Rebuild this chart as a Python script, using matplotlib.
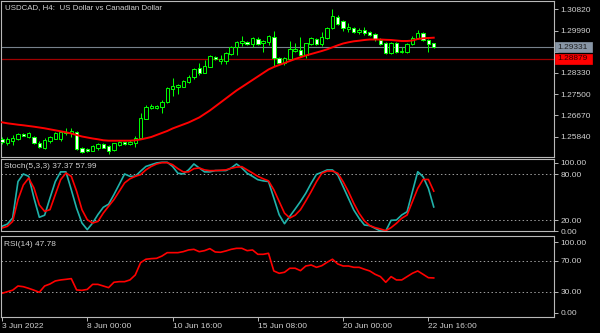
import matplotlib
matplotlib.use("Agg")
import matplotlib.pyplot as plt
import numpy as np
from matplotlib.patches import Rectangle

plt.rcParams['font.family'] = ['Liberation Sans', 'DejaVu Sans']

# ---------------- data (USDCAD H4) ----------------
open_ = [1.25730,1.25581,1.25683,1.25749,1.25945,1.25816,1.25816,1.25604,1.25386,1.25683,
         1.25749,1.25749,1.25972,1.25972,1.26011,1.25386,1.25358,1.25292,1.25386,1.25554,
         1.25475,1.25319,1.25515,1.25632,1.25554,1.25581,1.25777,1.26543,1.26949,1.26961,
         1.26988,1.27184,1.27704,1.27770,1.27794,1.27990,1.28161,1.28513,1.28341,1.28576,
         1.28967,1.28811,1.28799,1.29073,1.29358,1.29514,1.29554,1.29464,1.29671,1.29514,
         1.29554,1.29749,1.28905,1.28709,1.28877,1.29190,1.29229,1.29033,1.29452,1.29671,
         1.29464,1.29687,1.30077,1.30531,1.30363,1.30038,1.30077,1.29933,1.30011,1.29945,
         1.29855,1.29620,1.29514,1.29100,1.29514,1.29139,1.29162,1.29452,1.29687,1.29882,
         1.29620,1.29491]
high = [1.25808,1.25816,1.25906,1.25972,1.25972,1.26011,1.25878,1.25683,1.25777,1.25866,
        1.26011,1.26035,1.26167,1.26179,1.26062,1.25448,1.25397,1.25515,1.25604,1.25593,
        1.25515,1.25604,1.25659,1.25643,1.25710,1.25866,1.26754,1.27079,1.27118,1.27079,
        1.27274,1.27794,1.28123,1.27888,1.28056,1.28251,1.28513,1.28709,1.28838,1.29033,
        1.29006,1.29033,1.29162,1.29397,1.29581,1.29776,1.29581,1.29749,1.29749,1.29620,
        1.29827,1.29984,1.28967,1.28967,1.29593,1.29514,1.29726,1.29514,1.29726,1.29710,
        1.29921,1.30140,1.30820,1.30598,1.30402,1.30273,1.30117,1.30077,1.30140,1.29984,
        1.29905,1.29687,1.29554,1.29554,1.29554,1.29358,1.29491,1.29776,1.30011,1.29945,
        1.29647,1.29503]
low = [1.25554,1.25515,1.25515,1.25710,1.25847,1.25777,1.25554,1.25409,1.25358,1.25581,
       1.25738,1.25671,1.25906,1.25839,1.25319,1.25214,1.25241,1.25268,1.25319,1.25378,
       1.25163,1.25280,1.25487,1.25526,1.25515,1.25448,1.25738,1.26520,1.26910,1.26910,
       1.26777,1.27145,1.27430,1.27509,1.27782,1.27927,1.28083,1.28251,1.28318,1.28564,
       1.28838,1.28682,1.28670,1.29033,1.29033,1.29386,1.29436,1.29358,1.29425,1.29162,
       1.29425,1.28603,1.28670,1.28643,1.28838,1.29162,1.28967,1.28905,1.29425,1.29425,
       1.29386,1.29647,1.30038,1.30195,1.29984,1.29945,1.29882,1.29843,1.29816,1.29776,
       1.29593,1.29425,1.29073,1.29073,1.29112,1.29100,1.29123,1.29425,1.29647,1.29593,
       1.29162,1.29320]
close = [1.25612,1.25738,1.25800,1.25933,1.25866,1.25972,1.25581,1.25448,1.25710,1.25816,
         1.25972,1.26011,1.26035,1.26074,1.25358,1.25253,1.25280,1.25475,1.25554,1.25397,
         1.25292,1.25581,1.25632,1.25554,1.25632,1.25777,1.26559,1.26988,1.27038,1.27038,
         1.27208,1.27731,1.27821,1.27861,1.28017,1.28185,1.28474,1.28318,1.28603,1.28994,
         1.28866,1.28866,1.29100,1.29358,1.29554,1.29593,1.29464,1.29698,1.29464,1.29593,
         1.29776,1.28905,1.28709,1.28928,1.29268,1.29256,1.29033,1.29491,1.29687,1.29464,
         1.29749,1.30077,1.30558,1.30246,1.30077,1.30117,1.29945,1.30011,1.29882,1.29816,
         1.29647,1.29464,1.29100,1.29514,1.29139,1.29190,1.29464,1.29687,1.29905,1.29620,
         1.29452,1.29331]
ma = [1.26402,1.26363,1.26336,1.26308,1.26285,1.26257,1.26230,1.26199,1.26167,1.26128,
      1.26089,1.26050,1.26011,1.25964,1.25906,1.25847,1.25808,1.25769,1.25738,1.25699,
      1.25683,1.25683,1.25683,1.25683,1.25683,1.25699,1.25730,1.25777,1.25827,1.25906,
      1.25984,1.26062,1.26160,1.26238,1.26316,1.26394,1.26492,1.26590,1.26727,1.26863,
      1.27020,1.27176,1.27333,1.27490,1.27646,1.27782,1.27919,1.28056,1.28193,1.28330,
      1.28467,1.28564,1.28643,1.28721,1.28799,1.28877,1.28944,1.29014,1.29073,1.29131,
      1.29190,1.29256,1.29335,1.29413,1.29483,1.29530,1.29569,1.29593,1.29620,1.29640,
      1.29640,1.29640,1.29628,1.29620,1.29600,1.29581,1.29581,1.29600,1.29659,1.29687,
      1.29698,1.29710]
stoch_k = [12.1,15.0,23.0,70.5,80.4,77.3,49.0,23.9,26.6,49.0,
           70.5,83.1,83.1,59.8,35.6,16.4,7.8,16.4,27.5,36.9,
           41.0,53.5,66.9,80.4,77.3,77.3,84.0,90.2,92.5,94.7,
           95.6,95.6,90.2,81.3,80.4,85.7,93.4,88.2,83.1,83.1,
           84.8,84.8,84.8,88.2,93.4,88.2,81.3,77.3,72.9,71.4,
           70.5,49.0,27.2,15.5,25.2,34.7,44.5,55.3,68.2,79.9,
           82.5,85.6,85.6,79.0,63.8,48.6,33.4,22.6,13.8,13.0,
           9.5,6.0,6.0,19.9,20.3,26.9,31.1,57.3,83.3,76.8,
           61.6,37.37]
stoch_d = [9.9,12.1,18.5,46.9,66.0,75.0,62.1,40.0,31.6,33.8,
           53.5,72.9,81.6,77.3,57.8,33.8,20.7,16.4,18.5,29.3,
           38.3,46.9,57.8,68.7,74.1,77.3,79.5,85.7,90.2,93.4,
           95.1,95.1,92.5,87.3,83.1,83.1,87.3,88.2,85.7,84.7,
           84.8,85.2,85.7,87.8,89.3,89.9,85.7,81.6,77.3,74.1,
           71.4,59.8,44.5,29.3,23.0,26.6,33.8,45.2,57.3,70.3,
           81.3,84.2,84.2,81.3,70.3,57.3,42.1,29.1,19.1,13.0,
           10.4,8.6,6.4,10.4,16.0,22.6,26.9,44.3,61.6,73.2,
           73.2,57.99]
rsi = [28.0,30.0,32.0,37.4,36.5,34.4,32.0,29.3,37.4,40.0,
       43.9,45.2,46.0,46.9,32.3,31.8,33.0,39.5,39.5,37.4,
       35.3,42.2,43.0,43.0,45.2,51.6,67.5,71.9,72.7,73.1,
       76.0,80.4,80.4,80.4,81.7,83.9,84.7,81.7,83.0,85.6,
       81.3,80.9,82.6,84.7,86.0,86.0,83.0,83.9,78.3,78.3,
       79.6,56.8,53.8,55.1,60.3,60.3,57.2,63.2,64.5,61.5,
       63.6,68.0,71.9,65.8,63.2,63.2,61.5,61.5,59.0,56.8,
       52.5,49.5,42.2,49.5,45.2,45.2,49.5,53.8,56.8,52.5,
       48.1,47.78]

price_ticks = [1.25840, 1.26670, 1.27500, 1.28330, 1.29160, 1.29990, 1.30820]
price_tick_labels = ['1.25840', '1.26670', '1.27500', '1.28330', '', '1.29990', '1.30820']
bid_price = 1.29331
hline_price = 1.28879
time_tick_idx = [0, 16, 32, 48, 64, 80]
time_tick_labels = ['3 Jun 2022', '8 Jun 00:00', '10 Jun 16:00', '15 Jun 08:00',
                    '20 Jun 00:00', '22 Jun 16:00']
stoch_levels = [80, 20]
rsi_levels = [70, 30]

# ---------------- figure ----------------
W, H = 600, 333
fig = plt.figure(figsize=(W / 100, H / 100), dpi=100, facecolor='black')

FG = '#d0d0d0'
BORDER = '#b8b8b8'
FS = 6


def fbox(x0, y0, x1, y1):
    return [x0 / W, 1 - y1 / H, (x1 - x0) / W, (y1 - y0) / H]


ax_m = fig.add_axes(fbox(1, 1, 554, 157))
ax_s = fig.add_axes(fbox(1, 159, 554, 231))
ax_r = fig.add_axes(fbox(1, 236, 554, 317))

px_per_bar = 5.33
xlim = ((1 - 2) / px_per_bar, (554 - 2) / px_per_bar)

for ax in (ax_m, ax_s, ax_r):
    ax.set_facecolor('black')
    ax.set_xlim(*xlim)
    for s in ax.spines.values():
        s.set_color(BORDER)
        s.set_linewidth(0.8)
    ax.yaxis.tick_right()
    ax.tick_params(axis='y', direction='out', length=3, width=0.7, colors=BORDER,
                   labelcolor=FG, labelsize=FS, pad=1.5)
    ax.tick_params(axis='x', bottom=False, labelbottom=False)

x = np.arange(len(close))
o = np.array(open_); c = np.array(close); hi = np.array(high); lo = np.array(low)

# ---- main panel ----
ax_m.set_ylim(1.25045, 1.31145)
ax_m.vlines(x, lo, hi, color='#00ff00', lw=0.72, zorder=2)
bull = c >= o
bw = 3.4 / px_per_bar
ax_m.bar(x[bull], np.maximum(c[bull] - o[bull], 1e-6), bottom=o[bull], width=bw,
         facecolor='black', edgecolor='#00ff00', lw=0.7, zorder=3)
ax_m.bar(x[~bull], np.maximum(o[~bull] - c[~bull], 1e-6), bottom=c[~bull], width=bw,
         facecolor='white', edgecolor='#00ff00', lw=0.7, zorder=3)
ax_m.plot(x, ma, color='#ff0000', lw=1.4, zorder=4)
ax_m.axhline(bid_price, color='#77818c', lw=0.8, zorder=1.5)
ax_m.axhline(hline_price, color='#a00000', lw=0.9, zorder=1.5)
ax_m.set_yticks(price_ticks)
ax_m.set_yticklabels(price_tick_labels)

fig.text(5 / W, 1 - 7.5 / H, 'USDCAD, H4:  US Dollar vs Canadian Dollar', color=FG,
         fontsize=5.7, va='center', ha='left')

# price boxes
def price_box(price, fc, tc):
    y = ax_m.transData.transform((0, price))[1]
    fig.add_artist(Rectangle((555 / W, (y - 5) / H), 37 / W, 10 / H,
                             transform=fig.transFigure, fc=fc, ec=fc, lw=0.5, zorder=10))
    fig.text(557 / W, y / H, f'{price:.5f}', color=tc, fontsize=FS, va='center',
             ha='left', zorder=11)

price_box(bid_price, '#8896a6', '#202020')
price_box(hline_price, '#ff0000', '#300000')

# ---- stochastic ----
ax_s.set_ylim(6.0, 99.9)
for lv in stoch_levels:
    ax_s.axhline(lv, color='#a0a0a0', lw=0.7, ls=(0, (1.5, 2.5)))
ax_s.plot(x, stoch_k, color='#20b2aa', lw=1.2)
ax_s.plot(x, stoch_d, color='#ff0000', lw=1.2)
ax_s.set_yticks([95.3, 80, 20, 6.0])
ax_s.set_yticklabels(['100.00', '80.00', '20.00', '0.00'])
fig.text(4 / W, 1 - 166 / H, f'Stoch(5,3,3) {stoch_k[-1]:.2f} {stoch_d[-1]:.2f}',
         color=FG, fontsize=FS, va='center', ha='left')

# ---- RSI ----
ax_r.set_ylim(-2.6, 101.9)
for lv in rsi_levels:
    ax_r.axhline(lv, color='#a0a0a0', lw=0.7, ls=(0, (1.5, 2.5)))
ax_r.plot(x, rsi, color='#ff0000', lw=1.2)
ax_r.set_yticks([93.8, 70, 30, 3.0])
ax_r.set_yticklabels(['100.00', '70.00', '30.00', '0.00'])
fig.text(4 / W, 1 - 245 / H, f'RSI(14) {rsi[-1]:.2f}', color=FG, fontsize=FS,
         va='center', ha='left')

ax_r.tick_params(axis='x', bottom=True, labelbottom=True, direction='out', length=3,
                 width=0.7, colors=BORDER, labelcolor=FG, labelsize=FS, pad=1.5)
ax_r.set_xticks(time_tick_idx)
ax_r.set_xticklabels(time_tick_labels, ha='left')

fig.savefig('out.png', dpi=100, facecolor='black')
